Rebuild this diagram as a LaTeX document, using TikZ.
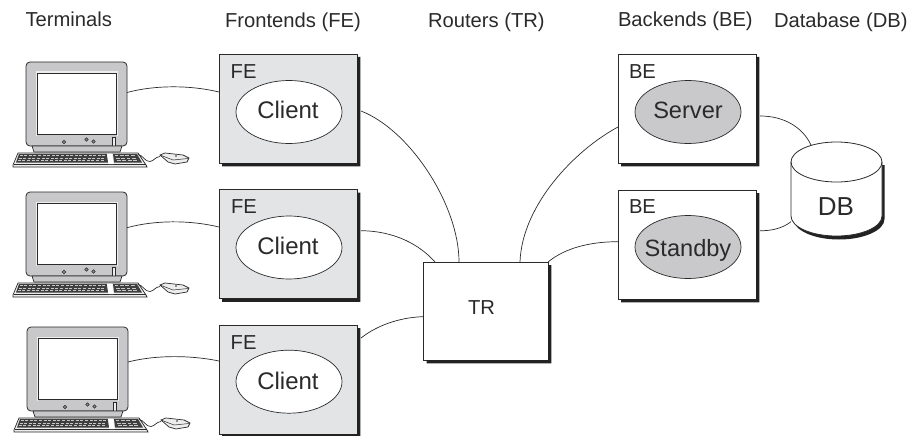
\documentclass[tikz,border=0pt]{standalone}
\usepackage{fontspec}
\setmainfont{Liberation Sans}
\usetikzlibrary{shapes.geometric}
\definecolor{inkc}{HTML}{2A2A2A}
\definecolor{fegray}{HTML}{E3E4E6}
\definecolor{ellgray}{HTML}{C9C9CB}
\definecolor{shadowc}{HTML}{222222}
\definecolor{monbody}{HTML}{C8C8CA}
\definecolor{monlight}{HTML}{EDEDED}
\tikzset{
  x=1pt,y=-1pt,
  lab/.style={inner sep=0pt,outer sep=0pt,text=inkc,font=\fontsize{20.2}{24}\selectfont,anchor=base west},
  biglab/.style={inner sep=0pt,outer sep=0pt,text=inkc,font=\fontsize{23.6}{28}\selectfont,anchor=base},
  box/.style={draw=inkc,line width=0.8pt,inner sep=0pt,outer sep=0pt,minimum width=138pt,minimum height=109pt,fill=white},
  febox/.style={box,fill=fegray},
  proc/.style={ellipse,draw=inkc,line width=0.7pt,inner sep=0pt,outer sep=0pt,minimum width=106pt,minimum height=63pt},
  wire/.style={draw=inkc,line width=0.7pt},
  monitor/.pic={
    \node[draw=inkc,line width=0.8pt,fill=monbody,rounded corners=4pt,inner sep=0pt,outer sep=0pt,minimum width=101pt,minimum height=84pt] (body) at (50.5,42) {};
    \draw[draw=monlight,line width=1pt,fill=monlight] (10,10) rectangle (91.5,73);
    \draw[draw=inkc,line width=0.8pt,fill=white] (11.5,11.5) rectangle (90,72);
    \fill[monbody] (10.5,73) rectangle (91,75);
    \draw[inkc,line width=0.5pt,fill=monbody!70!black] (38,80) circle[radius=1.7pt];
    \draw[inkc,line width=0.5pt,fill=monbody!70!black] (60.5,77.5) circle[radius=1.7pt];
    \draw[inkc,line width=0.5pt,fill=monbody!70!black] (67.5,79.5) circle[radius=1.7pt];
    \draw[inkc,line width=0.5pt,fill=monlight] (86.5,75.5) rectangle (89.5,84);
    \draw[inkc,line width=0.7pt,fill=monbody] (6,84) -- (96,84) -- (94,90) -- (8,90) -- cycle;
    \draw[inkc,line width=0.7pt,fill=monlight] (-8,91) -- (112,91) -- (120,103) -- (121,105) -- (-13,105) -- (-13,103) -- cycle;
    \draw[inkc,line width=0.5pt] (-12,102) -- (120,102);
    \fill[inkc!90] (-7,92) -- (81,92) -- (82,100.5) -- (-10,100.5) -- cycle;
    \fill[inkc!90] (87,92) -- (111,92) -- (116,100.5) -- (88,100.5) -- cycle;
    \fill[white] (81,91.5) -- (86,91.5) -- (87.5,102) -- (82.5,102) -- cycle;
    \foreach \r in {0,1,2}{
      \foreach \k in {0,...,18}{
        \fill[monbody] ({-6.5-\r*0.9+\k*4.6},{93+\r*2.6}) rectangle ++(3,1.2);
      }
      \foreach \k in {0,1,2,3}{
        \fill[monbody] ({88.5+\r*1.2+\k*5.4},{93+\r*2.6}) rectangle ++(3.8,1.2);
      }
    }
    \draw[inkc,line width=0.7pt] (112,92.5) .. controls (117,93) and (119,100) .. (124,99.5) .. controls (128,99) and (129,95) .. (134,94.5);
    \draw[inkc,line width=0.7pt,fill=monlight] (134,93) -- (139,91) -- (157,93) -- (163,96) -- (161,100) -- (149,102) -- (142,100) -- cycle;
    \draw[inkc,line width=0.5pt] (134,93) -- (147,98) -- (162,96.5);
    \fill[inkc] (150,94) circle[radius=0.8pt];
  }
}
\begin{document}
\begin{tikzpicture}
\useasboundingbox (0,0) rectangle (913,436);
% column headings
\node[lab] (hterm) at (25.5,27) {Terminals};
\node[lab] (hfe) at (225,28) {Frontends (FE)};
\node[lab] (htr) at (428,28) {Routers (TR)};
\node[lab] (hbe) at (618,27) {Backends (BE)};
\node[lab] (hdb) at (774,28) {Database (DB)};
% terminals
\pic (ta) at (26,62) {monitor};
\pic (tb) at (26,192) {monitor};
\pic (tc) at (27,327) {monitor};
% frontends
\node[febox] (fea) at (288,108.5) {};
\node[febox] (feb) at (288,244) {};
\node[febox] (fec) at (288,379.5) {};
\node[proc,fill=white] (ca) at (289,112) {};
\node[proc,fill=white] (cb) at (289,247.5) {};
\node[proc,fill=white] (cc) at (289,381.7) {};
\node[lab] (fla) at (230.7,78) {FE};
\node[lab] (flb) at (231,213) {FE};
\node[lab] (flc) at (230.7,349) {FE};
\node[biglab,font=\fontsize{24}{28}\selectfont] (cla) at (288,118) {Client};
\node[biglab,font=\fontsize{24}{28}\selectfont] (clb) at (288,254) {Client};
\node[biglab,font=\fontsize{24}{28}\selectfont] (clc) at (288,389) {Client};
% router
\node[box,minimum width=124.5pt,minimum height=98pt] (tr) at (485.8,311) {};
\node[lab] (trl) at (468,314) {TR};
% backends
\node[box] (bea) at (687,108.5) {};
\node[box] (beb) at (687,244.5) {};
\node[proc,fill=ellgray] (sv) at (688,112) {};
\node[proc,fill=ellgray] (sb) at (688,247) {};
\node[lab] (bla) at (629,78) {BE};
\node[lab] (blb) at (629,213) {BE};
\node[biglab] (svl) at (688,118.3) {Server};
\node[biglab] (sbl) at (688,256.7) {Standby};
% solid offset shadows of the boxes
\foreach \b in {fea,feb,fec,tr,bea,beb}{
  \fill[shadowc] ([yshift=-3pt]\b.north east) -- ([xshift=3.4pt,yshift=-3pt]\b.north east)
     -- ([xshift=3.4pt,yshift=-3.4pt]\b.south east) -- ([xshift=3pt,yshift=-3.4pt]\b.south west)
     -- ([xshift=3pt]\b.south west) -- (\b.south east) -- cycle;
}
% database
\fill[shadowc] (793.5,165) -- (793.5,219) arc[start angle=180,end angle=360,x radius=45.5pt,y radius=20.5pt] -- (884.5,165) -- cycle;
\draw[draw=inkc,line width=0.8pt,fill=white] (791,162) -- (791,216) arc[start angle=180,end angle=360,x radius=45.5pt,y radius=20pt] -- (882,162) arc[start angle=0,end angle=180,x radius=45.5pt,y radius=20pt] -- cycle;
\draw[draw=inkc,line width=0.8pt] (791,162) arc[start angle=180,end angle=360,x radius=45.5pt,y radius=20pt];
\node[inner sep=0pt,outer sep=0pt,minimum width=91pt,minimum height=94pt] (db) at (836.5,189) {};
\node[biglab,font=\fontsize{26}{30}\selectfont] (dbl) at (836,215.5) {DB};
% connectors
\draw[wire] ([yshift=11.5pt]tabody.east) .. controls (155,85) and (190,85) .. ([yshift=16.5pt]fea.west);
\draw[wire] ([yshift=6.3pt]tbbody.east) .. controls (155,220) and (190,220) .. ([yshift=17pt]feb.west);
\draw[wire] ([yshift=7pt]tcbody.east) .. controls (155,355) and (190,355) .. ([yshift=18.5pt]fec.west);
\draw[wire] ([xshift=4pt,yshift=-2.5pt]fea.east) .. controls (410,130) and (459,205) .. ([xshift=-26.8pt]tr.north);
\draw[wire] ([xshift=4pt,yshift=13.3pt]feb.east) .. controls (395,231) and (420,245) .. ([xshift=-50.8pt]tr.north);
\draw[wire] ([xshift=4pt,yshift=41.5pt]fec.east) .. controls (380,323) and (405,317) .. ([yshift=-5.7pt]tr.west);
\draw[wire] ([xshift=34.2pt]tr.north) .. controls (522,205) and (575,150) .. ([yshift=-18.5pt]bea.west);
\draw[wire] (tr.north east) .. controls (565,248) and (590,241.7) .. ([yshift=2.8pt]beb.west);
\draw[wire] ([xshift=4pt,yshift=-7.5pt]bea.east) .. controls (785,116) and (803,128) .. ([xshift=-25.5pt,yshift=-3pt]db.north);
\draw[wire] ([xshift=4pt,yshift=13.8pt]beb.east) .. controls (772,231) and (783,228) .. ([yshift=-32.7pt]db.west);
\end{tikzpicture}
\end{document}
